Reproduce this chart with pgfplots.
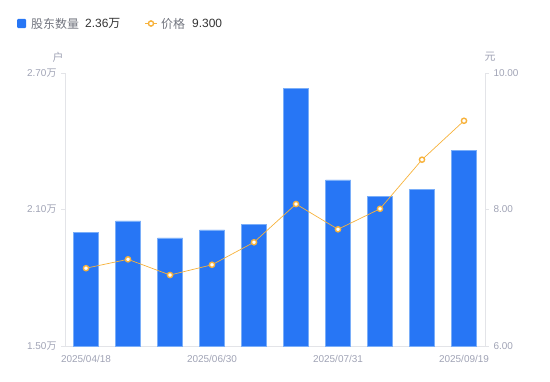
\documentclass[border=0pt]{standalone}
\usepackage{fontspec}
\setmainfont{Liberation Sans}
\newfontfamily\cjk{Noto Sans CJK SC}
\usepackage{pgfplots}
\pgfplotsset{compat=1.18}
\definecolor{barblue}{HTML}{2776F5}
\definecolor{baredge}{HTML}{7AAEF9}
\definecolor{lineorange}{HTML}{F7B23B}
\definecolor{axgray}{HTML}{E3E4E8}
\definecolor{ticklab}{HTML}{A0A3B5}
\definecolor{legname}{HTML}{72757F}
\definecolor{legval}{HTML}{333333}
\begin{document}
\begin{tikzpicture}[x=1bp,y=1bp]
\path[use as bounding box] (0,0) rectangle (550,381);
\begin{axis}[at={(65bp,35bp)}, anchor=south west, scale only axis,
  width=420bp, height=273bp,
  xmin=-0.5, xmax=9.5, ymin=1.5, ymax=2.7,
  axis x line*=bottom, axis y line*=left,
  axis line style={draw=axgray, line width=0.8bp},
  xtick={0,3,6,9},
  xticklabels={2025/04/18,2025/06/30,2025/07/31,2025/09/19},
  ytick={1.5,2.1,2.7},
  yticklabels={{1.50{\cjk 万}},{2.10{\cjk 万}},{2.70{\cjk 万}}},
  xtick style={draw=none},
  ytick style={draw=axgray, line width=0.8bp},
  major tick length=4bp, tick align=outside,
  tick label style={font=\fontsize{10}{12}\selectfont, text=ticklab},
  yticklabel style={xshift=-1bp},
  xticklabel style={yshift=-1.5bp},
  clip=true,
]
\addplot[ybar, bar width=25bp, fill=barblue, draw=baredge, line width=0.6bp]
coordinates {(0,2.00) (1,2.05) (2,1.975) (3,2.01) (4,2.036) (5,2.634) (6,2.23) (7,2.159) (8,2.19) (9,2.36)};
\end{axis}
\begin{axis}[at={(65bp,35bp)}, anchor=south west, scale only axis,
  width=420bp, height=273bp,
  xmin=-0.5, xmax=9.5, ymin=6, ymax=10,
  axis x line=none, axis y line*=right,
  axis line style={draw=axgray, line width=0.8bp},
  ytick={6,8,10},
  yticklabels={6.00,8.00,10.00},
  ytick style={draw=axgray, line width=0.8bp},
  major tick length=4bp, tick align=outside,
  tick label style={font=\fontsize{10}{12}\selectfont, text=ticklab},
  yticklabel style={xshift=1bp},
  clip=false,
]
\addplot[color=lineorange, line width=0.7bp, mark=*, mark size=2.6bp,
  mark options={fill=white, draw=lineorange, line width=1.4bp}]
coordinates {(0,7.14) (1,7.27) (2,7.04) (3,7.19) (4,7.52) (5,8.08) (6,7.71) (7,8.01) (8,8.73) (9,9.30)};
\end{axis}
% axis unit labels
\node[text=ticklab, font=\fontsize{11}{13}\selectfont\cjk, inner sep=0] at (58,324) {户};
\node[text=ticklab, font=\fontsize{11}{13}\selectfont\cjk, inner sep=0] at (490,324) {元};
% legend
\fill[barblue, rounded corners=1bp] (17,353) rectangle (26,362);
\node[anchor=west, inner sep=0, text=legname, font=\fontsize{12}{14}\selectfont\cjk] at (31,357.5) {股东数量};
\node[anchor=west, inner sep=0, text=legval, font=\fontsize{12}{14}\selectfont] at (85,357.5) {2.36{\cjk 万}};
\draw[lineorange, line width=1bp] (145,357.5) -- (157,357.5);
\draw[lineorange, fill=white, line width=1.4bp] (151,357.5) circle (2.6bp);
\node[anchor=west, inner sep=0, text=legname, font=\fontsize{12}{14}\selectfont\cjk] at (161,357.5) {价格};
\node[anchor=west, inner sep=0, text=legval, font=\fontsize{12}{14}\selectfont] at (192,357.5) {9.300};
\end{tikzpicture}
\end{document}
